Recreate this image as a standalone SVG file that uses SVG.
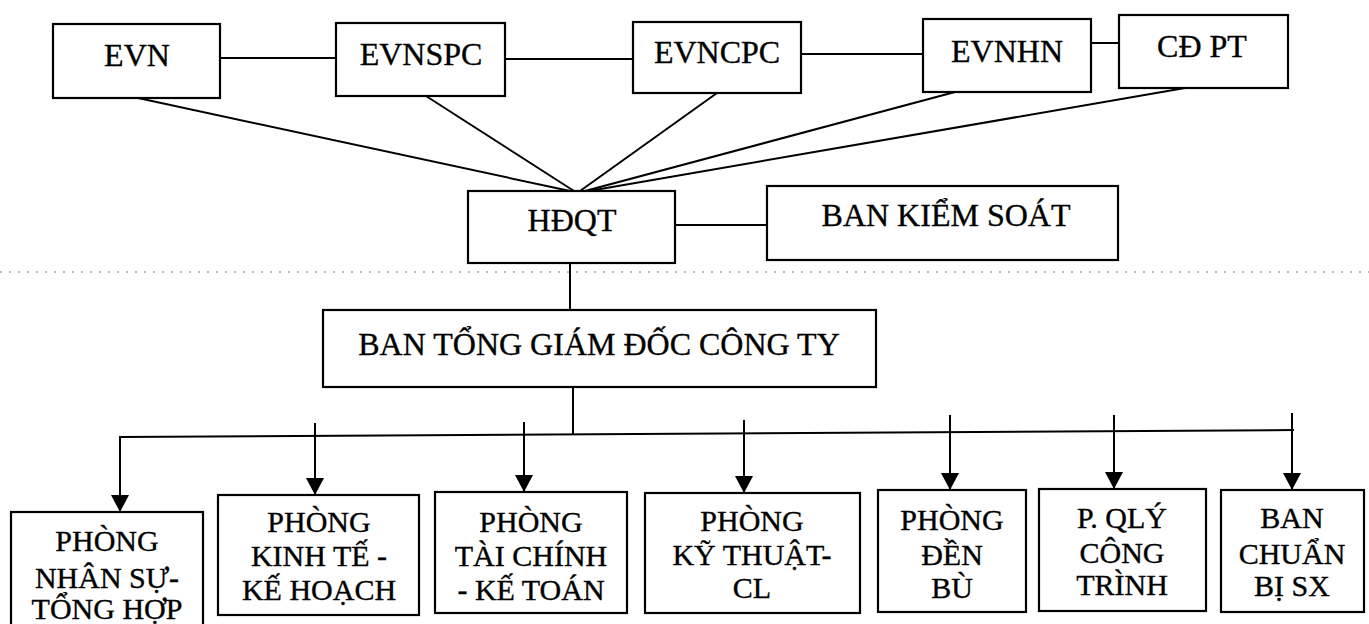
<svg xmlns="http://www.w3.org/2000/svg" width="1369" height="624" viewBox="0 0 1369 624">
<style>
.box{fill:#fff;stroke:#000;stroke-width:2.2}
.ln{stroke:#000;stroke-width:2;fill:none}
.dot{stroke:#777;stroke-width:1.2;stroke-dasharray:2 7;fill:none}
.t{font-family:"Liberation Serif","Times New Roman",serif;font-size:32px;text-anchor:middle;fill:#000;stroke:#000;stroke-width:0.35}
.s{font-size:30px}
</style>
<defs>
<marker id="ah" markerUnits="userSpaceOnUse" markerWidth="18" markerHeight="18" refX="17" refY="9" orient="auto">
<path d="M0,0 L17,9 L0,18 Z" fill="#000"/>
</marker>
</defs>
<rect width="1369" height="624" fill="#fff"/>
<line class="dot" x1="0" y1="272" x2="1369" y2="272"/>
<g id="connectors">
<line class="ln" x1="220" y1="58" x2="336" y2="58"/>
<line class="ln" x1="505" y1="59" x2="633" y2="59"/>
<line class="ln" x1="801" y1="54" x2="923" y2="54"/>
<line class="ln" x1="1091" y1="43" x2="1119" y2="43"/>
<line class="ln" x1="138" y1="98" x2="570" y2="191"/>
<line class="ln" x1="426" y1="96" x2="574" y2="191"/>
<line class="ln" x1="717" y1="93" x2="580" y2="191"/>
<line class="ln" x1="955" y1="92" x2="585" y2="191"/>
<line class="ln" x1="1185" y1="88" x2="589" y2="191"/>
<line class="ln" x1="675" y1="225" x2="767" y2="225"/>
<line class="ln" x1="570" y1="263" x2="570" y2="310"/>
<line class="ln" x1="573" y1="387" x2="573" y2="435"/>
<line class="ln" x1="119" y1="437" x2="1294" y2="430"/>
<line class="ln" x1="120" y1="437" x2="120" y2="512" marker-end="url(#ah)"/>
<line class="ln" x1="315" y1="423" x2="315" y2="495" marker-end="url(#ah)"/>
<line class="ln" x1="524" y1="422" x2="524" y2="492" marker-end="url(#ah)"/>
<line class="ln" x1="744" y1="420" x2="744" y2="493" marker-end="url(#ah)"/>
<line class="ln" x1="950" y1="415" x2="950" y2="490" marker-end="url(#ah)"/>
<line class="ln" x1="1114" y1="415" x2="1114" y2="489" marker-end="url(#ah)"/>
<line class="ln" x1="1292" y1="413" x2="1292" y2="490" marker-end="url(#ah)"/>
</g>
<g id="evn"><rect class="box" x="53" y="24" width="167" height="74"/><text class="t" x="137" y="66">EVN</text></g>
<g id="evnspc"><rect class="box" x="336" y="23" width="169" height="73"/><text class="t" x="421" y="65">EVNSPC</text></g>
<g id="evncpc"><rect class="box" x="633" y="22" width="168" height="71"/><text class="t" x="717" y="63">EVNCPC</text></g>
<g id="evnhn"><rect class="box" x="923" y="19" width="168" height="73"/><text class="t" x="1007" y="61.5">EVNHN</text></g>
<g id="cdpt"><rect class="box" x="1119" y="15" width="169" height="73"/><text class="t" x="1202" y="57">CĐ PT</text></g>
<g id="hdqt"><rect class="box" x="468" y="191" width="207" height="72"/><text class="t" x="572" y="231">HĐQT</text></g>
<g id="bks"><rect class="box" x="767" y="186" width="351" height="74"/><text class="t" x="946" y="226">BAN KIỂM SOÁT</text></g>
<g id="btgd"><rect class="box" x="323" y="310" width="553" height="77"/><text class="t" x="599" y="355">BAN TỔNG GIÁM ĐỐC CÔNG TY</text></g>
<g id="p-nhansu"><rect class="box" x="11" y="512" width="192" height="120"/><text class="t s" x="107" y="551">PHÒNG</text><text class="t s" x="107" y="588">NHÂN SỰ-</text><text class="t s" x="107" y="619">TỔNG HỢP</text></g>
<g id="p-kinhte"><rect class="box" x="218" y="495" width="201" height="120"/><text class="t s" x="319" y="532">PHÒNG</text><text class="t s" x="319" y="566">KINH TẾ -</text><text class="t s" x="319" y="600">KẾ HOẠCH</text></g>
<g id="p-taichinh"><rect class="box" x="435" y="492" width="192" height="121"/><text class="t s" x="531" y="532">PHÒNG</text><text class="t s" x="531" y="566">TÀI CHÍNH</text><text class="t s" x="531" y="600">- KẾ TOÁN</text></g>
<g id="p-kythuat"><rect class="box" x="645" y="493" width="215" height="120"/><text class="t s" x="752" y="531">PHÒNG</text><text class="t s" x="752" y="565">KỸ THUẬT-</text><text class="t s" x="752" y="598">CL</text></g>
<g id="p-denbu"><rect class="box" x="878" y="490" width="148" height="122"/><text class="t s" x="952" y="530">PHÒNG</text><text class="t s" x="952" y="565">ĐỀN</text><text class="t s" x="952" y="598">BÙ</text></g>
<g id="p-qly"><rect class="box" x="1039" y="489" width="167" height="122"/><text class="t s" x="1122" y="528">P. QLÝ</text><text class="t s" x="1122" y="563">CÔNG</text><text class="t s" x="1122" y="595">TRÌNH</text></g>
<g id="ban-chuanbi"><rect class="box" x="1221" y="490" width="143" height="122"/><text class="t s" x="1292" y="528">BAN</text><text class="t s" x="1292" y="564">CHUẨN</text><text class="t s" x="1292" y="596">BỊ SX</text></g>
</svg>
